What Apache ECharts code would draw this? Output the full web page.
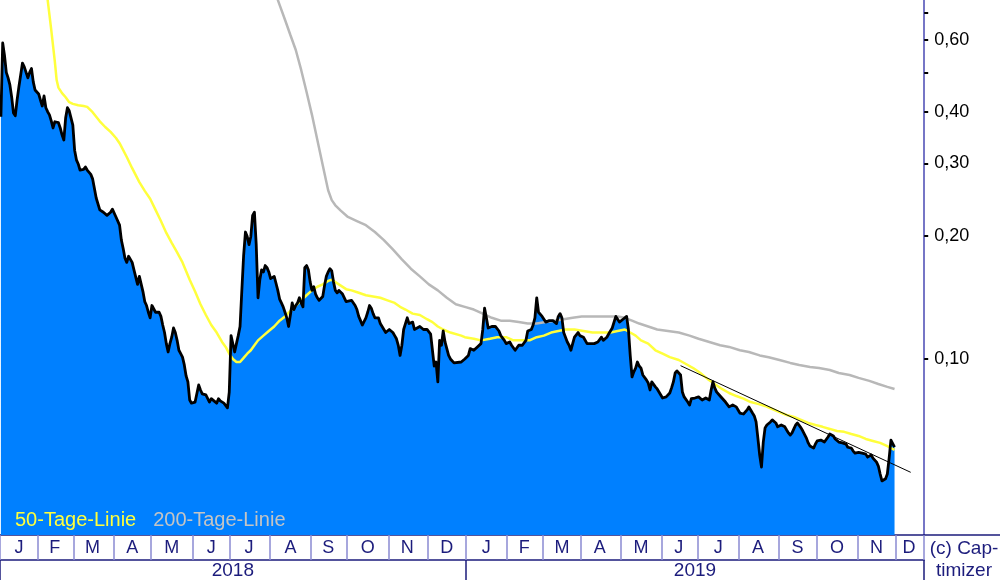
<!DOCTYPE html>
<html><head><meta charset="utf-8">
<script src="https://cdn.jsdelivr.net/npm/echarts@6/dist/echarts.min.js"></script>
<style>html,body{margin:0;padding:0;background:#fff}#c{width:1000px;height:580px}</style>
</head><body><div id="c"></div>
<script>
const startDate = '2018-01-03', endDate = '2019-12-23';
const monthLetters = ['J','F','M','A','M','J','J','A','S','O','N','D'];
const yTickValues = [0.1,0.2,0.3,0.4,0.5,0.6,0.7];
const yLabelValues = [0.1,0.2,0.3,0.4,0.6];
const legendNames = ['50-Tage-Linie','200-Tage-Linie'];
const copyrightText = '(c) Cap-\ntimizer';

const price2018 = [
['2018-01-03',0.39],['2018-01-04',0.59],['2018-01-05',0.55],['2018-01-08',0.50],['2018-01-09',0.485],['2018-01-10',0.466],['2018-01-11',0.435],['2018-01-12',0.398],['2018-01-15',0.392],['2018-01-16',0.428],['2018-01-17',0.461],['2018-01-18',0.493],['2018-01-19',0.527],['2018-01-22',0.516],['2018-01-23',0.50],['2018-01-24',0.485],['2018-01-25',0.50],['2018-01-26',0.511],['2018-01-29',0.474],['2018-01-30',0.453],['2018-01-31',0.448],
['2018-02-01',0.443],['2018-02-02',0.428],['2018-02-05',0.414],['2018-02-06',0.438],['2018-02-07',0.41],['2018-02-08',0.401],['2018-02-09',0.394],['2018-02-12',0.381],['2018-02-13',0.366],['2018-02-14',0.379],['2018-02-15',0.379],['2018-02-16',0.377],['2018-02-19',0.366],['2018-02-20',0.352],['2018-02-21',0.342],['2018-02-22',0.387],['2018-02-23',0.41],['2018-02-26',0.403],['2018-02-27',0.405],['2018-02-28',0.372],
['2018-03-01',0.323],['2018-03-02',0.306],['2018-03-05',0.299],['2018-03-06',0.289],['2018-03-07',0.287],['2018-03-08',0.29],['2018-03-09',0.294],['2018-03-12',0.289],['2018-03-13',0.286],['2018-03-14',0.282],['2018-03-15',0.275],['2018-03-19',0.247],['2018-03-21',0.231],['2018-03-23',0.228],['2018-03-27',0.224],['2018-03-29',0.228],['2018-03-30',0.232],
['2018-04-03',0.222],['2018-04-05',0.212],['2018-04-06',0.195],['2018-04-09',0.186],['2018-04-10',0.176],['2018-04-11',0.172],['2018-04-12',0.178],['2018-04-16',0.172],['2018-04-17',0.165],['2018-04-19',0.152],['2018-04-20',0.159],['2018-04-24',0.146],['2018-04-25',0.138],['2018-04-26',0.135],['2018-04-27',0.130],['2018-04-30',0.126],
['2018-05-01',0.135],['2018-05-02',0.135],['2018-05-03',0.130],['2018-05-04',0.129],['2018-05-07',0.13],['2018-05-08',0.127],['2018-05-09',0.121],['2018-05-10',0.116],['2018-05-11',0.109],['2018-05-14',0.104],['2018-05-15',0.109],['2018-05-16',0.113],['2018-05-17',0.119],['2018-05-18',0.116],['2018-05-21',0.111],['2018-05-22',0.105],['2018-05-23',0.103],['2018-05-24',0.101],['2018-05-25',0.0967],['2018-05-28',0.0909],['2018-05-29',0.0879],['2018-05-30',0.0794],['2018-05-31',0.078],
['2018-06-04',0.0785],['2018-06-05',0.079],['2018-06-06',0.0864],['2018-06-07',0.084],['2018-06-08',0.0822],['2018-06-12',0.0817],['2018-06-14',0.0785],['2018-06-15',0.08],['2018-06-18',0.0794],['2018-06-20',0.078],['2018-06-21',0.080],['2018-06-22',0.079],['2018-06-25',0.0794],['2018-06-26',0.078],['2018-06-27',0.0777],['2018-06-28',0.076],['2018-06-29',0.083],
['2018-07-02',0.114],['2018-07-03',0.113],['2018-07-04',0.104],['2018-07-05',0.109],['2018-07-06',0.114],['2018-07-09',0.12],['2018-07-10',0.147],['2018-07-11',0.179],['2018-07-12',0.204],['2018-07-13',0.199],['2018-07-16',0.19],['2018-07-17',0.199],['2018-07-18',0.224],['2018-07-19',0.228],['2018-07-20',0.19],['2018-07-23',0.141],['2018-07-24',0.156],['2018-07-25',0.165],['2018-07-26',0.163],['2018-07-27',0.169],['2018-07-30',0.167],['2018-07-31',0.163],
['2018-08-01',0.157],['2018-08-02',0.156],['2018-08-03',0.159],['2018-08-06',0.153],['2018-08-07',0.147],['2018-08-08',0.14],['2018-08-09',0.137],['2018-08-10',0.134],['2018-08-13',0.13],['2018-08-14',0.126],['2018-08-15',0.12],['2018-08-16',0.128],['2018-08-17',0.137],['2018-08-20',0.132],['2018-08-21',0.135],['2018-08-22',0.137],['2018-08-23',0.141],['2018-08-24',0.137],['2018-08-27',0.134],['2018-08-28',0.167],['2018-08-29',0.169],['2018-08-30',0.165],['2018-08-31',0.154],
['2018-09-03',0.147],['2018-09-04',0.15],['2018-09-05',0.144],['2018-09-06',0.141],['2018-09-07',0.139],['2018-09-10',0.14],['2018-09-11',0.142],['2018-09-12',0.151],['2018-09-13',0.159],['2018-09-14',0.163],['2018-09-17',0.166],['2018-09-18',0.164],['2018-09-19',0.154],['2018-09-20',0.147],['2018-09-21',0.145],['2018-09-24',0.147],['2018-09-26',0.144],['2018-09-28',0.138],
['2018-10-01',0.137],['2018-10-03',0.139],['2018-10-04',0.139],['2018-10-05',0.135],['2018-10-08',0.132],['2018-10-09',0.127],['2018-10-10',0.124],['2018-10-11',0.121],['2018-10-12',0.122],['2018-10-15',0.126],['2018-10-16',0.13],['2018-10-17',0.135],['2018-10-18',0.133],['2018-10-19',0.129],['2018-10-22',0.126],['2018-10-23',0.126],['2018-10-24',0.126],['2018-10-25',0.122],['2018-10-26',0.12],['2018-10-29',0.118],['2018-10-30',0.116],['2018-10-31',0.117],
['2018-11-01',0.118],['2018-11-02',0.118],['2018-11-05',0.116],['2018-11-06',0.114],['2018-11-07',0.112],['2018-11-08',0.108],['2018-11-09',0.102],['2018-11-12',0.108],['2018-11-13',0.118],['2018-11-14',0.122],['2018-11-15',0.126],['2018-11-16',0.122],['2018-11-19',0.121],['2018-11-20',0.123],['2018-11-21',0.118],['2018-11-22',0.119],['2018-11-26',0.12],['2018-11-28',0.118],['2018-11-30',0.118],
['2018-12-03',0.117],['2018-12-04',0.115],['2018-12-05',0.105],['2018-12-06',0.0961],['2018-12-07',0.0983],['2018-12-10',0.0879],['2018-12-11',0.111],['2018-12-12',0.108],['2018-12-13',0.117],['2018-12-14',0.11],['2018-12-17',0.106],['2018-12-18',0.102],['2018-12-19',0.1],['2018-12-21',0.0978],['2018-12-27',0.0983],['2018-12-31',0.1]
];

const price2019 = [
['2019-01-02',0.102],['2019-01-03',0.106],['2019-01-04',0.106],['2019-01-07',0.105],['2019-01-08',0.106],['2019-01-09',0.107],['2019-01-10',0.108],['2019-01-11',0.109],['2019-01-14',0.118],['2019-01-15',0.133],['2019-01-16',0.126],['2019-01-17',0.119],['2019-01-18',0.118],['2019-01-21',0.12],['2019-01-22',0.121],['2019-01-23',0.12],['2019-01-24',0.119],['2019-01-25',0.117],['2019-01-28',0.114],['2019-01-29',0.113],['2019-01-30',0.111],['2019-01-31',0.109],
['2019-02-01',0.108],['2019-02-04',0.11],['2019-02-05',0.108],['2019-02-06',0.107],['2019-02-07',0.105],['2019-02-08',0.106],['2019-02-11',0.108],['2019-02-13',0.108],['2019-02-14',0.109],['2019-02-15',0.111],['2019-02-18',0.117],['2019-02-19',0.118],['2019-02-20',0.118],['2019-02-21',0.121],['2019-02-22',0.126],['2019-02-25',0.141],['2019-02-26',0.13],['2019-02-27',0.129],['2019-02-28',0.127],
['2019-03-01',0.126],['2019-03-04',0.123],['2019-03-05',0.124],['2019-03-06',0.124],['2019-03-07',0.124],['2019-03-08',0.124],['2019-03-11',0.123],['2019-03-12',0.122],['2019-03-13',0.127],['2019-03-14',0.129],['2019-03-15',0.126],['2019-03-18',0.116],['2019-03-19',0.113],['2019-03-20',0.11],['2019-03-21',0.108],['2019-03-22',0.105],['2019-03-25',0.109],['2019-03-26',0.113],['2019-03-27',0.114],['2019-03-28',0.116],['2019-03-29',0.114],
['2019-04-01',0.113],['2019-04-02',0.113],['2019-04-03',0.113],['2019-04-04',0.109],['2019-04-05',0.108],['2019-04-08',0.109],['2019-04-09',0.109],['2019-04-10',0.109],['2019-04-11',0.109],['2019-04-12',0.11],['2019-04-15',0.111],['2019-04-16',0.113],['2019-04-17',0.111],['2019-04-18',0.111],['2019-04-19',0.113],['2019-04-22',0.115],['2019-04-23',0.116],['2019-04-24',0.119],['2019-04-25',0.123],['2019-04-26',0.127],['2019-04-29',0.128],['2019-04-30',0.123],
['2019-05-01',0.124],['2019-05-02',0.125],['2019-05-03',0.124],['2019-05-06',0.127],['2019-05-07',0.118],['2019-05-08',0.102],['2019-05-09',0.0904],['2019-05-10',0.093],['2019-05-13',0.095],['2019-05-14',0.0983],['2019-05-15',0.0961],['2019-05-16',0.095],['2019-05-17',0.0914],['2019-05-20',0.0904],['2019-05-21',0.0889],['2019-05-22',0.0874],['2019-05-23',0.084],['2019-05-24',0.0879],['2019-05-27',0.0879],['2019-05-28',0.0855],['2019-05-29',0.0845],['2019-05-30',0.0831],['2019-05-31',0.0822],
['2019-06-03',0.0803],['2019-06-04',0.0808],['2019-06-05',0.0808],['2019-06-06',0.0817],['2019-06-07',0.0826],['2019-06-10',0.085],['2019-06-11',0.0879],['2019-06-12',0.0924],['2019-06-13',0.0935],['2019-06-14',0.093],['2019-06-17',0.0914],['2019-06-18',0.0831],['2019-06-19',0.0808],['2019-06-20',0.0803],['2019-06-21',0.0785],['2019-06-24',0.0772],['2019-06-25',0.08],['2019-06-26',0.0808],['2019-06-27',0.0803],['2019-06-28',0.0803],
['2019-07-01',0.0808],['2019-07-02',0.0808],['2019-07-03',0.0794],['2019-07-04',0.08],['2019-07-05',0.0803],['2019-07-08',0.08],['2019-07-09',0.0794],['2019-07-10',0.084],['2019-07-11',0.0879],['2019-07-12',0.085],['2019-07-15',0.0831],['2019-07-16',0.0822],['2019-07-17',0.0812],['2019-07-18',0.0803],['2019-07-19',0.0794],['2019-07-22',0.0785],['2019-07-23',0.0777],['2019-07-24',0.0764],['2019-07-25',0.0768],['2019-07-26',0.0772],['2019-07-29',0.0768],['2019-07-30',0.0764],['2019-07-31',0.0751],
['2019-08-01',0.0738],['2019-08-02',0.073],['2019-08-05',0.0734],['2019-08-06',0.0742],['2019-08-07',0.0751],['2019-08-08',0.0764],['2019-08-09',0.0751],['2019-08-12',0.0738],['2019-08-13',0.0726],['2019-08-14',0.0702],['2019-08-15',0.0641],['2019-08-16',0.0583],['2019-08-19',0.0545],['2019-08-20',0.0627],['2019-08-21',0.0679],['2019-08-22',0.069],['2019-08-23',0.0694],['2019-08-26',0.0702],['2019-08-27',0.071],['2019-08-28',0.0718],['2019-08-29',0.0698],['2019-08-30',0.0683],
['2019-09-02',0.0683],['2019-09-03',0.069],['2019-09-04',0.069],['2019-09-05',0.0683],['2019-09-06',0.0671],['2019-09-09',0.066],['2019-09-10',0.0652],['2019-09-11',0.066],['2019-09-12',0.0675],['2019-09-13',0.069],['2019-09-16',0.0698],['2019-09-17',0.0694],['2019-09-18',0.0679],['2019-09-19',0.0667],['2019-09-20',0.066],['2019-09-23',0.0641],['2019-09-24',0.0624],['2019-09-25',0.0613],['2019-09-26',0.0609],['2019-09-27',0.0606],['2019-09-30',0.062],
['2019-10-01',0.0631],['2019-10-02',0.0634],['2019-10-03',0.0634],['2019-10-04',0.0627],['2019-10-07',0.0627],['2019-10-08',0.0634],['2019-10-09',0.0645],['2019-10-10',0.0656],['2019-10-11',0.066],['2019-10-14',0.0649],['2019-10-15',0.0638],['2019-10-16',0.0631],['2019-10-17',0.0627],['2019-10-18',0.0624],['2019-10-21',0.0624],['2019-10-22',0.0627],['2019-10-23',0.062],['2019-10-24',0.0609],['2019-10-25',0.0609],['2019-10-28',0.0606],['2019-10-29',0.0596],['2019-10-30',0.0589],['2019-10-31',0.0592],
['2019-11-01',0.0592],['2019-11-04',0.0589],['2019-11-05',0.0589],['2019-11-06',0.0592],['2019-11-07',0.0586],['2019-11-08',0.0576],['2019-11-11',0.0579],['2019-11-12',0.0583],['2019-11-13',0.0573],['2019-11-14',0.0567],['2019-11-15',0.056],['2019-11-18',0.0548],['2019-11-19',0.0524],['2019-11-20',0.0504],['2019-11-21',0.0504],['2019-11-22',0.051],['2019-11-25',0.0524],['2019-11-26',0.0573],['2019-11-27',0.0634],['2019-11-28',0.0627],['2019-11-29',0.0609]
];

const ma50 = [
['2018-02-07',0.817],['2018-02-09',0.691],['2018-02-12',0.635],['2018-02-14',0.531],['2018-02-15',0.479],['2018-02-16',0.459],['2018-02-20',0.445],['2018-02-22',0.435],['2018-02-26',0.423],['2018-02-28',0.419],['2018-03-05',0.416],['2018-03-08',0.414],['2018-03-12',0.412],['2018-03-15',0.40],['2018-03-21',0.380],['2018-03-26',0.368],['2018-03-29',0.358],['2018-04-03',0.346],['2018-04-05',0.336],['2018-04-11',0.311],['2018-04-16',0.292],['2018-04-20',0.27],['2018-04-25',0.257],['2018-04-30',0.246],
['2018-05-03',0.231],['2018-05-08',0.217],['2018-05-11',0.203],['2018-05-16',0.192],['2018-05-21',0.182],['2018-05-24',0.172],['2018-05-30',0.156],['2018-06-04',0.146],['2018-06-07',0.136],['2018-06-12',0.128],['2018-06-15',0.121],['2018-06-20',0.116],['2018-06-25',0.11],['2018-06-27',0.107],['2018-06-29',0.103],['2018-07-03',0.1],['2018-07-05',0.0983],['2018-07-09',0.0983],['2018-07-11',0.1006],['2018-07-13',0.103],['2018-07-17',0.105],['2018-07-19',0.108],['2018-07-23',0.111],['2018-07-26',0.114],['2018-07-31',0.117],
['2018-08-03',0.12],['2018-08-08',0.124],['2018-08-13',0.127],['2018-08-16',0.131],['2018-08-21',0.135],['2018-08-24',0.139],['2018-08-29',0.143],['2018-09-03',0.147],['2018-09-06',0.150],['2018-09-11',0.152],['2018-09-14',0.155],['2018-09-18',0.156],['2018-09-20',0.154],['2018-09-25',0.151],['2018-09-28',0.148],['2018-10-03',0.147],['2018-10-09',0.145],['2018-10-15',0.143],['2018-10-19',0.142],['2018-10-25',0.141],['2018-10-31',0.139],
['2018-11-06',0.137],['2018-11-09',0.134],['2018-11-14',0.132],['2018-11-20',0.129],['2018-11-26',0.128],['2018-11-30',0.125],['2018-12-05',0.123],['2018-12-10',0.12],['2018-12-13',0.118],['2018-12-19',0.116],['2018-12-27',0.114],['2018-12-31',0.113],
['2019-01-07',0.112],['2019-01-11',0.111],['2019-01-18',0.112],['2019-01-24',0.113],['2019-01-31',0.113],['2019-02-06',0.111],['2019-02-13',0.111],['2019-02-19',0.111],['2019-02-25',0.113],['2019-03-01',0.114],['2019-03-07',0.116],['2019-03-13',0.117],['2019-03-19',0.118],['2019-03-26',0.118],['2019-04-02',0.117],['2019-04-09',0.116],['2019-04-16',0.116],['2019-04-23',0.116],['2019-04-29',0.117],
['2019-05-03',0.118],['2019-05-08',0.116],['2019-05-13',0.114],['2019-05-16',0.111],['2019-05-22',0.109],['2019-05-28',0.105],['2019-06-03',0.103],['2019-06-07',0.101],['2019-06-14',0.0994],['2019-06-20',0.0972],['2019-06-26',0.095],['2019-07-02',0.0924],['2019-07-08',0.0894],['2019-07-12',0.0869],['2019-07-18',0.0845],['2019-07-24',0.0826],['2019-07-30',0.0812],
['2019-08-05',0.08],['2019-08-09',0.0785],['2019-08-15',0.0777],['2019-08-21',0.0768],['2019-08-27',0.0755],['2019-09-02',0.0742],['2019-09-06',0.073],['2019-09-12',0.0722],['2019-09-18',0.071],['2019-09-24',0.0698],['2019-09-30',0.069],['2019-10-04',0.0683],['2019-10-10',0.0675],['2019-10-16',0.0667],['2019-10-22',0.0664],['2019-10-28',0.0656],['2019-11-01',0.0649],['2019-11-07',0.0638],['2019-11-13',0.0631],['2019-11-19',0.0624],['2019-11-25',0.0613],['2019-11-29',0.06]
];

const ma200 = [
['2018-08-06',0.773],['2018-08-08',0.731],['2018-08-13',0.672],['2018-08-16',0.617],['2018-08-21',0.567],['2018-08-24',0.507],['2018-08-29',0.448],['2018-09-03',0.394],['2018-09-06',0.342],['2018-09-11',0.297],['2018-09-14',0.258],['2018-09-18',0.244],['2018-09-20',0.237],['2018-09-25',0.23],
['2018-10-01',0.222],['2018-10-08',0.217],['2018-10-15',0.212],['2018-10-22',0.204],['2018-10-29',0.195],['2018-11-05',0.185],['2018-11-12',0.175],['2018-11-19',0.166],['2018-11-26',0.159],['2018-12-03',0.152],['2018-12-10',0.147],['2018-12-17',0.141],['2018-12-24',0.136],['2018-12-31',0.134],
['2019-01-07',0.132],['2019-01-14',0.129],['2019-01-21',0.126],['2019-01-28',0.124],['2019-02-04',0.124],['2019-02-11',0.123],['2019-02-18',0.122],['2019-02-25',0.122],['2019-03-04',0.123],['2019-03-11',0.124],['2019-03-18',0.125],['2019-03-25',0.126],['2019-04-01',0.127],['2019-04-08',0.127],['2019-04-15',0.127],['2019-04-22',0.127],['2019-04-29',0.127],
['2019-05-03',0.126],['2019-05-09',0.124],['2019-05-15',0.122],['2019-05-22',0.12],['2019-05-29',0.118],['2019-06-06',0.117],['2019-06-14',0.116],['2019-06-24',0.114],['2019-07-01',0.112],['2019-07-09',0.11],['2019-07-17',0.108],['2019-07-24',0.107],['2019-08-01',0.105],['2019-08-08',0.104],['2019-08-16',0.102],['2019-08-23',0.101],
['2019-09-02',0.0994],['2019-09-10',0.0978],['2019-09-17',0.0967],['2019-09-25',0.0956],['2019-10-02',0.095],['2019-10-10',0.094],['2019-10-17',0.0924],['2019-10-25',0.0914],['2019-11-01',0.0899],['2019-11-11',0.0884],['2019-11-18',0.0869],['2019-11-25',0.0855],['2019-11-29',0.0845]
];

const trendLine = [['2019-06-17',0.0963],['2019-12-12',0.0529]];

// weekday categories (business-day axis)
function weekdays(a, b) {
  const out = [];
  const d = new Date(a + 'T00:00:00Z'), e = new Date(b + 'T00:00:00Z');
  while (d <= e) {
    const w = d.getUTCDay();
    if (w !== 0 && w !== 6) out.push(d.toISOString().slice(0, 10));
    d.setUTCDate(d.getUTCDate() + 1);
  }
  return out;
}
const days = weekdays(startDate, endDate);
function groupBy(keyLen) {
  const g = {};
  days.forEach((d, i) => { const k = d.slice(0, keyLen); (g[k] = g[k] || []).push(i); });
  const first = new Set(), mid = new Set();
  Object.keys(g).forEach(k => { const a = g[k]; first.add(a[0]); mid.add(Math.floor((a[0] + a[a.length - 1]) / 2)); });
  return { first, mid };
}
const months = groupBy(7), years = groupBy(4);
const price = price2018.concat(price2019);

const FONT = '"Liberation Sans", Arial, sans-serif';
const NAVY = '#1c1c7c';

const chart = echarts.init(document.getElementById('c'), null, { renderer: 'canvas' });
chart.setOption({
  animation: false,
  backgroundColor: '#fff',
  grid: [
    { left: 0, top: 0, width: 924.2, height: 535, containLabel: false, outerBoundsMode: 'none' },
    { left: 924.2, top: 0, right: 0, height: 535, containLabel: false, outerBoundsMode: 'none' }
  ],
  xAxis: [
    { type: 'category', gridIndex: 0, data: days, boundaryGap: true, position: 'bottom',
      axisLine: { show: true, lineStyle: { color: NAVY, width: 1.5 } },
      axisTick: { show: true, interval: (i) => months.first.has(i), length: 25, lineStyle: { color: '#8a8ad2', width: 1.5 } },
      axisLabel: { interval: (i) => months.mid.has(i), formatter: (v) => monthLetters[+v.slice(5, 7) - 1],
        color: NAVY, fontSize: 18, fontFamily: FONT, margin: 4 },
      splitLine: { show: false } },
    { type: 'category', gridIndex: 0, data: days, boundaryGap: true, position: 'bottom', offset: 25,
      axisLine: { show: true, lineStyle: { color: NAVY, width: 1.5 } },
      axisTick: { show: true, interval: (i) => years.first.has(i), length: 20, lineStyle: { color: NAVY, width: 1.5 } },
      axisLabel: { interval: (i) => years.mid.has(i), formatter: (v) => v.slice(0, 4),
        color: NAVY, fontSize: 19, fontFamily: FONT, margin: 1 },
      splitLine: { show: false } },
    { type: 'value', gridIndex: 1, position: 'bottom', min: 0, max: 1,
      axisLine: { show: true, onZero: false, lineStyle: { color: NAVY, width: 1.5 } },
      axisTick: { show: false }, axisLabel: { show: false }, splitLine: { show: false } }
  ],
  yAxis: [
    { type: 'log', gridIndex: 0, position: 'right', logBase: 10, min: 0.0372, max: 0.751,
      axisLine: { show: true, lineStyle: { color: '#7676c6', width: 2 } },
      axisTick: { show: true, customValues: yTickValues, length: 4, inside: false, lineStyle: { color: '#000', width: 2 } },
      axisLabel: { show: true, customValues: yLabelValues, formatter: (v) => v.toFixed(2).replace('.', ','),
        color: '#000', fontSize: 18, fontFamily: FONT, margin: 10 },
      minorTick: { show: false }, splitLine: { show: false } },
    { type: 'value', gridIndex: 1, show: false, min: 0, max: 1 }
  ],
  legend: {
    left: 10, top: 510, padding: 0, icon: 'none', itemWidth: 0, itemHeight: 0, itemGap: 12,
    selectedMode: false,
    textStyle: { fontSize: 20, fontFamily: FONT },
    data: [
      { name: legendNames[0], textStyle: { color: '#ffff3c' } },
      { name: legendNames[1], textStyle: { color: '#c4c4c4' } }
    ]
  },
  graphic: [
    { type: 'text', x: 964, y: 538, silent: true,
      style: { text: copyrightText, fill: NAVY, font: '19px ' + FONT, align: 'center', verticalAlign: 'top', lineHeight: 22 } }
  ],
  series: [
    { name: 'Fläche', type: 'line', xAxisIndex: 0, yAxisIndex: 0, data: price, symbol: 'none', showSymbol: false,
      lineStyle: { width: 0 }, areaStyle: { color: '#0080ff', opacity: 1, origin: 'start' }, z: 1, silent: true },
    { name: legendNames[0], type: 'line', xAxisIndex: 0, yAxisIndex: 0, data: ma50, symbol: 'none',
      lineStyle: { color: '#ffff3c', width: 2.5 }, itemStyle: { color: '#ffff3c' }, z: 2, silent: true },
    { name: legendNames[1], type: 'line', xAxisIndex: 0, yAxisIndex: 0, data: ma200, symbol: 'none',
      lineStyle: { color: '#b8b8b8', width: 2.5 }, itemStyle: { color: '#b8b8b8' }, z: 2, silent: true },
    { name: 'Trend', type: 'line', xAxisIndex: 0, yAxisIndex: 0, data: trendLine, symbol: 'none',
      lineStyle: { color: '#000', width: 1 }, z: 3, silent: true },
    { name: 'Kurs', type: 'line', xAxisIndex: 0, yAxisIndex: 0, data: price, symbol: 'none',
      lineStyle: { color: '#000', width: 2.8, join: 'round' }, z: 4, silent: true }
  ]
});
</script>
</body></html>
